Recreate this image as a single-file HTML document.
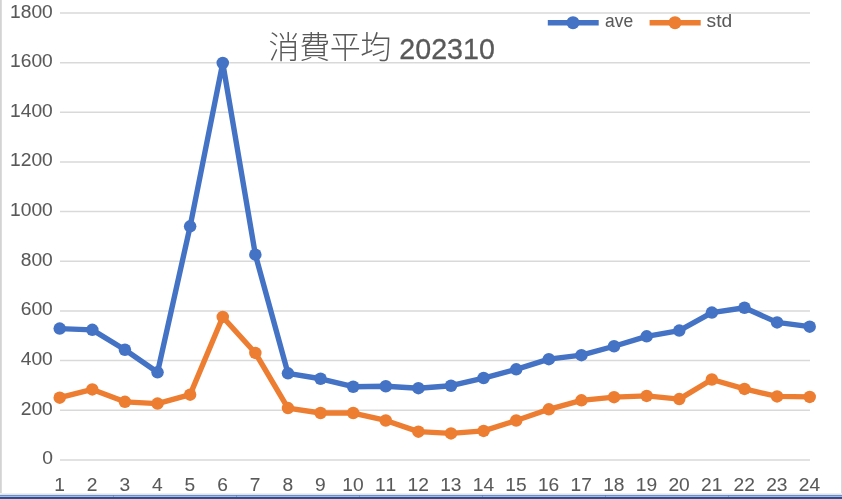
<!DOCTYPE html>
<html lang="ja"><head><meta charset="utf-8"><title>消費平均 202310</title>
<style>
html,body{margin:0;padding:0;background:#fff;}
body{width:842px;height:499px;overflow:hidden;position:relative;}
svg{display:block;position:absolute;left:0;top:0;}
text{font-family:"Liberation Sans","Noto Sans CJK JP",sans-serif;fill:#595959;}
.ax{font-size:19.2px;stroke:#595959;stroke-width:0.06px;font-kerning:none;}
.ttl{font-size:29.5px;stroke:#595959;stroke-width:0.3px;}
.cjk{font-family:"Noto Sans CJK JP","Liberation Sans",sans-serif;font-weight:300;font-size:31px;letter-spacing:-0.45px;}
</style></head><body>
<svg width="842" height="499" viewBox="0 0 842 499">
<rect x="0" y="0" width="842" height="499" fill="#ffffff"/>

<rect x="0" y="0" width="1" height="495" fill="#d3d3d4"/><rect x="1" y="0" width="1" height="495" fill="#dcdcdc"/>
<rect x="841" y="0" width="1" height="495" fill="#d5d9e0"/>
<rect x="0" y="493" width="842" height="1" fill="#efefee"/>
<rect x="0" y="494" width="842" height="1" fill="#e3e3e0"/>
<rect x="0" y="495" width="842" height="1" fill="#6a8cd0"/>
<rect x="0" y="496" width="842" height="1" fill="#a6bae6"/>
<rect x="0" y="497" width="842" height="1" fill="#2a4b8c"/>
<rect x="0" y="498" width="842" height="1" fill="#30538f"/>
<rect x="113" y="495" width="1" height="1" fill="#6283c7"/><rect x="113" y="496" width="1" height="1" fill="#7f97cf"/>
<rect x="236" y="495" width="1" height="1" fill="#6283c7"/><rect x="236" y="496" width="1" height="1" fill="#7f97cf"/>
<rect x="359" y="495" width="1" height="1" fill="#6283c7"/><rect x="359" y="496" width="1" height="1" fill="#7f97cf"/>
<rect x="482" y="495" width="1" height="1" fill="#6283c7"/><rect x="482" y="496" width="1" height="1" fill="#7f97cf"/>
<rect x="605" y="495" width="1" height="1" fill="#6283c7"/><rect x="605" y="496" width="1" height="1" fill="#7f97cf"/>
<rect x="728" y="495" width="1" height="1" fill="#6283c7"/><rect x="728" y="496" width="1" height="1" fill="#7f97cf"/>
<line x1="60.0" y1="459.90" x2="810.0" y2="459.90" stroke="#d9d9d9" stroke-width="1.5"/>
<text class="ax" x="52.8" y="464.40" text-anchor="end">0</text>
<line x1="60.0" y1="410.24" x2="810.0" y2="410.24" stroke="#d9d9d9" stroke-width="1.5"/>
<text class="ax" x="52.8" y="414.74" text-anchor="end">200</text>
<line x1="60.0" y1="360.59" x2="810.0" y2="360.59" stroke="#d9d9d9" stroke-width="1.5"/>
<text class="ax" x="52.8" y="365.09" text-anchor="end">400</text>
<line x1="60.0" y1="310.93" x2="810.0" y2="310.93" stroke="#d9d9d9" stroke-width="1.5"/>
<text class="ax" x="52.8" y="315.43" text-anchor="end">600</text>
<line x1="60.0" y1="261.28" x2="810.0" y2="261.28" stroke="#d9d9d9" stroke-width="1.5"/>
<text class="ax" x="52.8" y="265.78" text-anchor="end">800</text>
<line x1="60.0" y1="211.62" x2="810.0" y2="211.62" stroke="#d9d9d9" stroke-width="1.5"/>
<text class="ax" x="52.8" y="216.12" text-anchor="end">1000</text>
<line x1="60.0" y1="161.97" x2="810.0" y2="161.97" stroke="#d9d9d9" stroke-width="1.5"/>
<text class="ax" x="52.8" y="166.47" text-anchor="end">1200</text>
<line x1="60.0" y1="112.31" x2="810.0" y2="112.31" stroke="#d9d9d9" stroke-width="1.5"/>
<text class="ax" x="52.8" y="116.81" text-anchor="end">1400</text>
<line x1="60.0" y1="62.66" x2="810.0" y2="62.66" stroke="#d9d9d9" stroke-width="1.5"/>
<text class="ax" x="52.8" y="67.16" text-anchor="end">1600</text>
<line x1="60.0" y1="13.00" x2="810.0" y2="13.00" stroke="#d9d9d9" stroke-width="1.5"/>
<text class="ax" x="52.8" y="17.50" text-anchor="end">1800</text>
<text class="ax" x="59.50" y="491.2" text-anchor="middle">1</text>
<text class="ax" x="92.11" y="491.2" text-anchor="middle">2</text>
<text class="ax" x="124.72" y="491.2" text-anchor="middle">3</text>
<text class="ax" x="157.33" y="491.2" text-anchor="middle">4</text>
<text class="ax" x="189.93" y="491.2" text-anchor="middle">5</text>
<text class="ax" x="222.54" y="491.2" text-anchor="middle">6</text>
<text class="ax" x="255.15" y="491.2" text-anchor="middle">7</text>
<text class="ax" x="287.76" y="491.2" text-anchor="middle">8</text>
<text class="ax" x="320.37" y="491.2" text-anchor="middle">9</text>
<text class="ax" x="352.98" y="491.2" text-anchor="middle">10</text>
<text class="ax" x="385.59" y="491.2" text-anchor="middle">11</text>
<text class="ax" x="418.20" y="491.2" text-anchor="middle">12</text>
<text class="ax" x="450.80" y="491.2" text-anchor="middle">13</text>
<text class="ax" x="483.41" y="491.2" text-anchor="middle">14</text>
<text class="ax" x="516.02" y="491.2" text-anchor="middle">15</text>
<text class="ax" x="548.63" y="491.2" text-anchor="middle">16</text>
<text class="ax" x="581.24" y="491.2" text-anchor="middle">17</text>
<text class="ax" x="613.85" y="491.2" text-anchor="middle">18</text>
<text class="ax" x="646.46" y="491.2" text-anchor="middle">19</text>
<text class="ax" x="679.07" y="491.2" text-anchor="middle">20</text>
<text class="ax" x="711.67" y="491.2" text-anchor="middle">21</text>
<text class="ax" x="744.28" y="491.2" text-anchor="middle">22</text>
<text class="ax" x="776.89" y="491.2" text-anchor="middle">23</text>
<text class="ax" x="809.50" y="491.2" text-anchor="middle">24</text>
<text class="cjk" x="268.6" y="58.0">消費平均</text>
<text class="ttl" transform="translate(399.3,59.3) scale(0.972,1)">202310</text>
<line x1="547.8" y1="22.7" x2="598.7" y2="22.7" stroke="#4472c4" stroke-width="5.6"/><circle cx="573.0" cy="22.7" r="6.5" fill="#4472c4"/>
<text class="ax" transform="translate(605.1,27) scale(0.905,1)">ave</text>
<line x1="649.6" y1="22.7" x2="700.7" y2="22.7" stroke="#ed7d31" stroke-width="5.6"/><circle cx="675.0" cy="22.7" r="6.5" fill="#ed7d31"/>
<text class="ax" x="706.6" y="27">std</text>
<polyline points="59.70,328.61 92.31,329.85 124.92,349.72 157.53,372.31 190.13,226.32 222.74,62.96 255.35,254.63 287.96,373.30 320.57,378.76 353.18,386.71 385.79,386.21 418.40,388.20 451.00,385.72 483.61,378.02 516.22,369.33 548.83,359.15 581.44,355.18 614.05,346.24 646.66,336.31 679.27,330.60 711.87,312.60 744.48,307.76 777.09,322.41 809.70,326.63" fill="none" stroke="#4472c4" stroke-width="5.4" stroke-linejoin="round" stroke-linecap="round"/>
<circle cx="59.70" cy="328.61" r="6.25" fill="#4472c4"/>
<circle cx="92.31" cy="329.85" r="6.25" fill="#4472c4"/>
<circle cx="124.92" cy="349.72" r="6.25" fill="#4472c4"/>
<circle cx="157.53" cy="372.31" r="6.25" fill="#4472c4"/>
<circle cx="190.13" cy="226.32" r="6.25" fill="#4472c4"/>
<circle cx="222.74" cy="62.96" r="6.25" fill="#4472c4"/>
<circle cx="255.35" cy="254.63" r="6.25" fill="#4472c4"/>
<circle cx="287.96" cy="373.30" r="6.25" fill="#4472c4"/>
<circle cx="320.57" cy="378.76" r="6.25" fill="#4472c4"/>
<circle cx="353.18" cy="386.71" r="6.25" fill="#4472c4"/>
<circle cx="385.79" cy="386.21" r="6.25" fill="#4472c4"/>
<circle cx="418.40" cy="388.20" r="6.25" fill="#4472c4"/>
<circle cx="451.00" cy="385.72" r="6.25" fill="#4472c4"/>
<circle cx="483.61" cy="378.02" r="6.25" fill="#4472c4"/>
<circle cx="516.22" cy="369.33" r="6.25" fill="#4472c4"/>
<circle cx="548.83" cy="359.15" r="6.25" fill="#4472c4"/>
<circle cx="581.44" cy="355.18" r="6.25" fill="#4472c4"/>
<circle cx="614.05" cy="346.24" r="6.25" fill="#4472c4"/>
<circle cx="646.66" cy="336.31" r="6.25" fill="#4472c4"/>
<circle cx="679.27" cy="330.60" r="6.25" fill="#4472c4"/>
<circle cx="711.87" cy="312.60" r="6.25" fill="#4472c4"/>
<circle cx="744.48" cy="307.76" r="6.25" fill="#4472c4"/>
<circle cx="777.09" cy="322.41" r="6.25" fill="#4472c4"/>
<circle cx="809.70" cy="326.63" r="6.25" fill="#4472c4"/>
<polyline points="59.70,397.63 92.31,389.44 124.92,401.85 157.53,403.59 190.13,394.65 222.74,316.94 255.35,352.94 287.96,408.06 320.57,413.03 353.18,413.03 385.79,420.48 418.40,431.65 451.00,433.39 483.61,430.90 516.22,420.48 548.83,409.30 581.44,400.37 614.05,397.14 646.66,395.90 679.27,399.12 711.87,379.51 744.48,388.94 777.09,396.39 809.70,396.89" fill="none" stroke="#ed7d31" stroke-width="5.4" stroke-linejoin="round" stroke-linecap="round"/>
<circle cx="59.70" cy="397.63" r="6.25" fill="#ed7d31"/>
<circle cx="92.31" cy="389.44" r="6.25" fill="#ed7d31"/>
<circle cx="124.92" cy="401.85" r="6.25" fill="#ed7d31"/>
<circle cx="157.53" cy="403.59" r="6.25" fill="#ed7d31"/>
<circle cx="190.13" cy="394.65" r="6.25" fill="#ed7d31"/>
<circle cx="222.74" cy="316.94" r="6.25" fill="#ed7d31"/>
<circle cx="255.35" cy="352.94" r="6.25" fill="#ed7d31"/>
<circle cx="287.96" cy="408.06" r="6.25" fill="#ed7d31"/>
<circle cx="320.57" cy="413.03" r="6.25" fill="#ed7d31"/>
<circle cx="353.18" cy="413.03" r="6.25" fill="#ed7d31"/>
<circle cx="385.79" cy="420.48" r="6.25" fill="#ed7d31"/>
<circle cx="418.40" cy="431.65" r="6.25" fill="#ed7d31"/>
<circle cx="451.00" cy="433.39" r="6.25" fill="#ed7d31"/>
<circle cx="483.61" cy="430.90" r="6.25" fill="#ed7d31"/>
<circle cx="516.22" cy="420.48" r="6.25" fill="#ed7d31"/>
<circle cx="548.83" cy="409.30" r="6.25" fill="#ed7d31"/>
<circle cx="581.44" cy="400.37" r="6.25" fill="#ed7d31"/>
<circle cx="614.05" cy="397.14" r="6.25" fill="#ed7d31"/>
<circle cx="646.66" cy="395.90" r="6.25" fill="#ed7d31"/>
<circle cx="679.27" cy="399.12" r="6.25" fill="#ed7d31"/>
<circle cx="711.87" cy="379.51" r="6.25" fill="#ed7d31"/>
<circle cx="744.48" cy="388.94" r="6.25" fill="#ed7d31"/>
<circle cx="777.09" cy="396.39" r="6.25" fill="#ed7d31"/>
<circle cx="809.70" cy="396.89" r="6.25" fill="#ed7d31"/>
</svg></body></html>
